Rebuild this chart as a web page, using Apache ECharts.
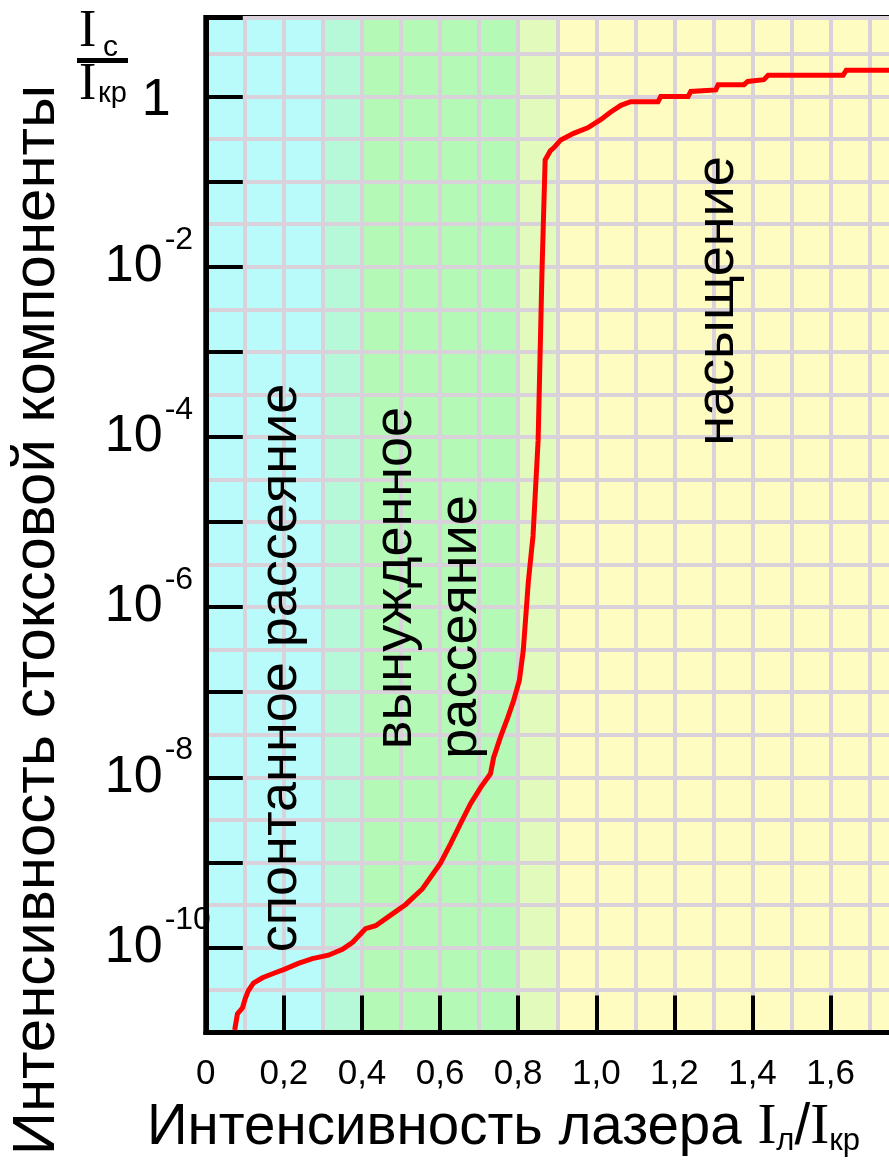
<!DOCTYPE html>
<html>
<head>
<meta charset="utf-8">
<script src="https://cdn.jsdelivr.net/npm/echarts@6/dist/echarts.min.js"></script>
<style>
  html, body { margin: 0; padding: 0; background: #ffffff; }
  #chart { width: 889px; height: 1161px; }
</style>
</head>
<body>
<div id="chart"></div>
<script>
// Laser intensity I_л/I_кр (x) and Stokes component intensity I_c/I_кр (y)
const laserIntensity = [0.074, 0.081, 0.094, 0.101, 0.109, 0.122, 0.145, 0.171, 0.204, 0.237,
  0.273, 0.314, 0.350, 0.376, 0.409, 0.435, 0.468, 0.512, 0.555, 0.601,
  0.627, 0.653, 0.678, 0.704, 0.729, 0.737, 0.755, 0.773, 0.788, 0.803,
  0.813, 0.826, 0.838, 0.851, 0.861, 0.869, 0.882, 0.891, 0.909, 0.942,
  0.978, 1.012, 1.037, 1.063, 1.088, 1.158, 1.165, 1.235, 1.242, 1.306,
  1.312, 1.378, 1.388, 1.429, 1.440, 1.632, 1.640, 1.753];
const stokesIntensity = [1.07e-11, 1.66e-11, 1.95e-11, 2.5e-11, 3.1e-11, 3.8e-11, 4.4e-11, 4.9e-11, 5.6e-11, 6.5e-11,
  7.4e-11, 8.1e-11, 9.5e-11, 1.15e-10, 1.66e-10, 1.8e-10, 2.3e-10, 3.2e-10, 4.9e-10, 9.8e-10,
  1.66e-9, 2.9e-9, 4.9e-9, 7.6e-9, 1.1e-8, 1.7e-8, 3.0e-8, 5.0e-8, 7.9e-8, 1.38e-7,
  3.1e-7, 2.0e-6, 6.9e-6, 9.1e-5, 9.1e-3, 0.18, 0.23, 0.25, 0.31, 0.37,
  0.43, 0.54, 0.66, 0.79, 0.87, 0.87, 1.0, 1.0, 1.15, 1.2,
  1.38, 1.38, 1.51, 1.58, 1.78, 1.78, 2.04, 2.04];

// Powers of ten that carry a label on the vertical axis
const yLabelExponents = [0, -2, -4, -6, -8, -10];

// Background regions along the laser-intensity axis
const bandEdges = [0, 0.3, 0.4, 0.8, 0.9, 1.8];
const bandColors = ['#b9fbfb', '#b6f9d9', '#b4f9b6', '#e2fbbd', '#fffcc2'];

// Region names
const regionLabels = [
  { text: 'спонтанное рассеяние', x: 281, y: 668 },
  { text: 'вынужденное', x: 396, y: 578 },
  { text: 'рассеяние', x: 461, y: 627 },
  { text: 'насыщение', x: 718, y: 301 }
];

const SANS = '"Liberation Sans", Arial, sans-serif';
const SERIF = '"Liberation Serif", "Times New Roman", serif';
const gridColor = '#dad2da';

const curve = laserIntensity.map((x, i) => [x, Math.log10(stokesIntensity[i])]);

const bands = [];
for (let i = 0; i < bandColors.length; i++) {
  bands.push([
    { xAxis: bandEdges[i], itemStyle: { color: bandColors[i] } },
    { xAxis: bandEdges[i + 1] }
  ]);
}

function textEl(text, x, y, opts) {
  return Object.assign({
    type: 'text', x: x, y: y, z: 10, silent: true,
    style: Object.assign({
      text: text, fill: '#000', fontFamily: SANS, fontSize: 54,
      align: 'left', verticalAlign: 'middle',
      textAlign: 'left', textVerticalAlign: 'middle'
    }, opts.style || {})
  }, opts.el || {});
}

const graphics = [];
regionLabels.forEach(r => {
  graphics.push(textEl(r.text, r.x, r.y, {
    el: { rotation: Math.PI / 2 },
    style: { align: 'center', textAlign: 'center' }
  }));
});

// vertical axis title
graphics.push(textEl('Интенсивность стоксовой компоненты', 37, 620, {
  el: { rotation: Math.PI / 2 },
  style: { align: 'center', textAlign: 'center', fontSize: 60 }
}));

// horizontal axis title with subscripts
graphics.push(textEl('{t|Интенсивность лазера }{i|I}{sub|л}{t|/}{i|I}{sub|кр}', 147, 1128, {
  style: {
    rich: {
      t: { fontFamily: SANS, fontSize: 56.5, verticalAlign: 'middle' },
      i: { fontFamily: SERIF, fontSize: 57, verticalAlign: 'middle' },
      sub: { fontFamily: SANS, fontSize: 31, padding: [26, 0, 0, 0], verticalAlign: 'middle' }
    }
  }
}));

// unit fraction I_c / I_кр at the top of the vertical axis
graphics.push(textEl('I', 79, 32, { style: { fontFamily: SERIF, fontSize: 52 } }));
graphics.push(textEl('c', 103, 48, { style: { fontSize: 30 } }));
graphics.push({
  type: 'rect', z: 10, silent: true,
  shape: { x: 77, y: 58, width: 51, height: 5 },
  style: { fill: '#000' }
});
graphics.push(textEl('I', 79, 85, { style: { fontFamily: SERIF, fontSize: 52 } }));
graphics.push(textEl('кр', 98, 94, { style: { fontSize: 29 } }));

const chart = echarts.init(document.getElementById('chart'), null, { renderer: 'canvas' });

chart.setOption({
  animation: false,
  backgroundColor: '#ffffff',
  grid: {
    left: 205.8, top: 17.5, width: 702.9, height: 1015,
    containLabel: false, outerBoundsMode: 'none',
    show: true, borderColor: '#000', borderWidth: 5,
    backgroundColor: 'rgba(0,0,0,0)', z: 2
  },
  xAxis: {
    type: 'value', min: 0, max: 1.8, interval: 0.2, z: 2,
    axisLine: { show: true, onZero: false, lineStyle: { color: '#000', width: 5 } },
    axisTick: { show: true, inside: true, length: 37, lineStyle: { color: '#000', width: 4 } },
    splitLine: { show: true, lineStyle: { color: gridColor, width: 4 } },
    minorTick: { show: false, splitNumber: 2 },
    minorSplitLine: { show: true, lineStyle: { color: gridColor, width: 4 } },
    axisLabel: {
      margin: 24, color: '#000', fontFamily: SANS, fontSize: 35,
      showMaxLabel: false,
      formatter: v => (v === 0 ? '0' : v.toFixed(1).replace('.', ','))
    }
  },
  yAxis: [
    {
      type: 'value', min: -11, max: 0.93, interval: 0.5, z: 2, position: 'left',
      axisLine: { show: true, onZero: false, lineStyle: { color: '#000', width: 5 } },
      axisTick: { show: false },
      splitLine: { show: true, lineStyle: { color: gridColor, width: 4 } },
      axisLabel: {
        margin: 101, align: 'left', color: '#000',
        showMaxLabel: false,
        formatter: v => {
          const r = Math.round(v);
          if (Math.abs(v - r) > 1e-6 || yLabelExponents.indexOf(r) < 0) return '';
          return r === 0 ? '{one|1}' : '{b|10}{s|' + r + '}';
        },
        rich: {
          b: { fontFamily: SANS, fontSize: 52, color: '#000', verticalAlign: 'middle' },
          s: { fontFamily: SANS, fontSize: 32, color: '#000', padding: [0, 0, 54, 2], verticalAlign: 'middle' },
          one: { fontFamily: SANS, fontSize: 52, color: '#000', padding: [8, 0, 0, 37], verticalAlign: 'middle' }
        }
      }
    },
    {
      type: 'value', min: -11, max: 0.93, interval: 1, z: 2, position: 'left',
      axisLine: { show: false, onZero: false },
      axisTick: { show: true, inside: true, length: 37, lineStyle: { color: '#000', width: 4 } },
      splitLine: { show: false },
      axisLabel: { show: false }
    }
  ],
  series: [{
    type: 'line',
    data: curve,
    yAxisIndex: 0,
    symbol: 'none',
    z: 3,
    clip: true,
    lineStyle: { color: '#ff0000', width: 5, join: 'miter' },
    markArea: { silent: true, z: 1, data: bands }
  }],
  graphic: graphics
});
</script>
</body>
</html>
